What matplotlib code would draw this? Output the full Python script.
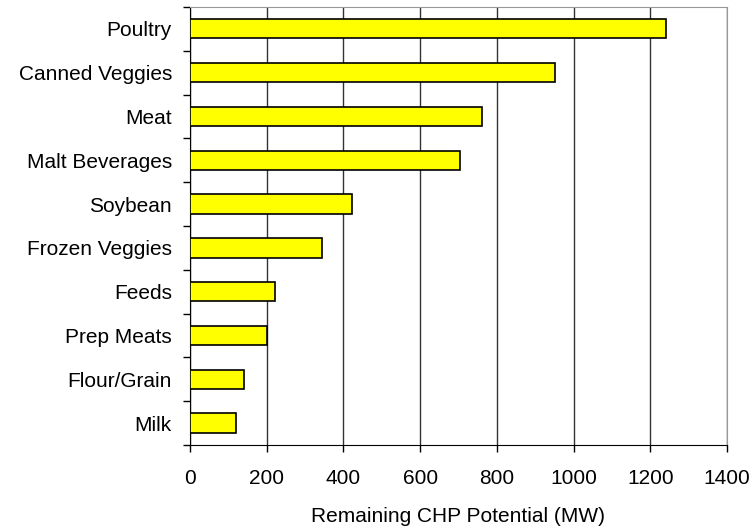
import matplotlib
matplotlib.use("Agg")
import matplotlib.pyplot as plt
import numpy as np

plt.rcParams['font.family'] = ['Liberation Sans', 'DejaVu Sans']

categories = ["Poultry", "Canned Veggies", "Meat", "Malt Beverages", "Soybean",
              "Frozen Veggies", "Feeds", "Prep Meats", "Flour/Grain", "Milk"]
values = [1240, 951, 761, 703, 422, 343, 222, 200, 142, 120]
x_ticks = [0, 200, 400, 600, 800, 1000, 1200, 1400]
x_label = "Remaining CHP Potential (MW)"

fig = plt.figure(figsize=(7.53, 5.31), dpi=100)
ax = fig.add_axes([0.2523, 0.162, 0.7131, 0.8249])

n = len(categories)
pos = np.arange(n)[::-1]
ax.barh(pos, values, height=0.44, color="#FFFF00", edgecolor="black",
        linewidth=1.2, zorder=3)

ax.set_xlim(0, 1400)
ax.set_ylim(-0.5, n - 0.5)
ax.set_xticks(x_ticks)
ax.set_xticklabels([str(t) for t in x_ticks], fontsize=15)
ax.xaxis.grid(True, color="#333333", linewidth=1.0, zorder=0)

# category boundaries carry the tick marks, centres carry the labels
ax.set_yticks(np.arange(-0.5, n, 1.0))
ax.set_yticklabels([])
ax.set_yticks(pos, minor=True)
ax.set_yticklabels(categories, minor=True, fontsize=15)
ax.tick_params(axis="y", which="minor", length=0, pad=13)
ax.tick_params(axis="y", which="major", length=5, direction="out", width=1)
ax.tick_params(axis="x", length=5, direction="out", width=1, pad=12)

ax.spines["left"].set_color("black")
ax.spines["bottom"].set_color("black")
ax.spines["top"].set_color("#999999")
ax.spines["right"].set_color("#999999")

ax.set_xlabel(x_label, fontsize=15, labelpad=14)

fig.savefig("out.png", dpi=100)
